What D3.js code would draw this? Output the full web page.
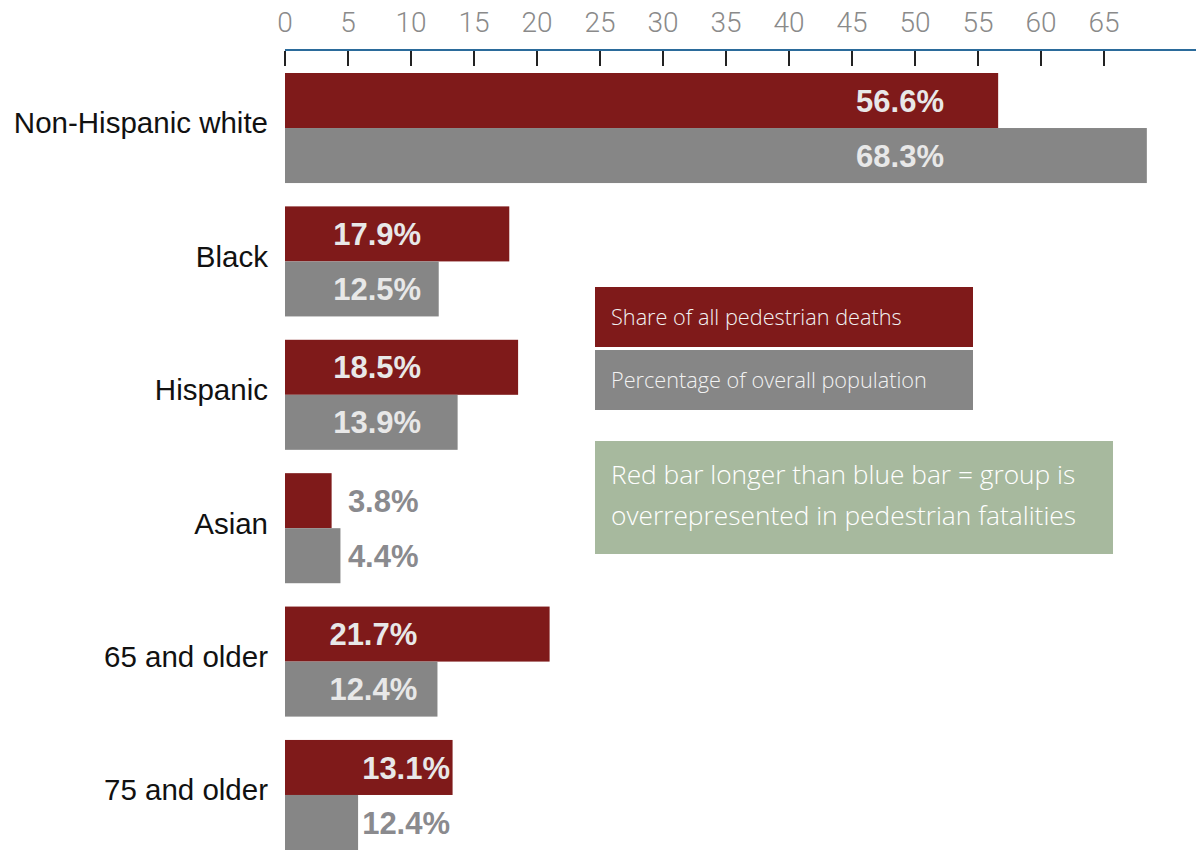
<!DOCTYPE html>
<html>
<head>
<meta charset="utf-8">
<script src="https://cdn.jsdelivr.net/npm/d3@7"></script>
<style>
  body { margin: 0; background: #fff; }
  svg { display: block; }
  .tick-label { font-family: Roboto, "Liberation Sans", sans-serif; font-weight: 300; }
  .cat { font-family: "Liberation Sans", Arial, sans-serif; }
  .val { font-family: "Liberation Sans", Arial, sans-serif; font-weight: bold; }
  .light { font-family: "Open Sans", Roboto, sans-serif; font-weight: 300; }
</style>
</head>
<body>
<div id="chart"></div>
<script>
const categories = ['Non-Hispanic white', 'Black', 'Hispanic', 'Asian', '65 and older', '75 and older'];
// bar lengths as drawn in the picture
const deathShare = [56.6, 17.8, 18.5, 3.7, 21.0, 13.3];
const populationShare = [68.4, 12.2, 13.7, 4.4, 12.1, 5.8];
// printed labels
const deathLabels = ['56.6%', '17.9%', '18.5%', '3.8%', '21.7%', '13.1%'];
const populationLabels = ['68.3%', '12.5%', '13.9%', '4.4%', '12.4%', '12.4%'];
// where each group's labels end, in axis units
const labelAt = [52.3, 10.8, 10.8, 10.6, 10.5, 13.1];
const ticks = [0, 5, 10, 15, 20, 25, 30, 35, 40, 45, 50, 55, 60, 65];
const legendLabels = ['Share of all pedestrian deaths', 'Percentage of overall population'];
const noteLines = ['Red bar longer than blue bar = group is', 'overrepresented in pedestrian fatalities'];

const red = '#7f1a1a';
const grey = '#868686';

const width = 1196;
const height = 850;

const svg = d3.select('#chart')
  .append('svg')
  .attr('width', width)
  .attr('height', height);

const x = d3.scaleLinear()
  .domain([0, 65])
  .range([285, 1104]);

const y = d3.scaleBand()
  .domain(categories)
  .range([73, 850])
  .paddingInner(0.175)
  .paddingOuter(0);

const barH = y.bandwidth() / 2;

// axis
const axis = svg.append('g').attr('class', 'axis');
axis.append('line')
  .attr('x1', x(0))
  .attr('x2', width)
  .attr('y1', 50)
  .attr('y2', 50)
  .attr('stroke', '#2b6b9b')
  .attr('stroke-width', 2);

axis.selectAll('.tick-mark')
  .data(ticks)
  .enter()
  .append('line')
  .attr('class', 'tick-mark')
  .attr('x1', d => x(d))
  .attr('x2', d => x(d))
  .attr('y1', 51)
  .attr('y2', 66)
  .attr('stroke', '#222')
  .attr('stroke-width', 2);

axis.selectAll('.tick-label')
  .data(ticks)
  .enter()
  .append('text')
  .attr('class', 'tick-label')
  .attr('x', d => x(d))
  .attr('y', 32)
  .attr('text-anchor', 'middle')
  .attr('font-size', 28)
  .attr('fill', '#8a8a8a')
  .text(d => d);

// bars
const groups = svg.selectAll('.group')
  .data(categories)
  .enter()
  .append('g')
  .attr('class', 'group')
  .attr('transform', d => `translate(0, ${y(d)})`);

groups.append('rect')
  .attr('x', x(0))
  .attr('y', 0)
  .attr('width', (d, i) => x(deathShare[i]) - x(0))
  .attr('height', barH)
  .attr('fill', red);

groups.append('rect')
  .attr('x', x(0))
  .attr('y', barH)
  .attr('width', (d, i) => x(populationShare[i]) - x(0))
  .attr('height', barH)
  .attr('fill', grey);

groups.append('text')
  .attr('class', 'cat')
  .attr('x', 268)
  .attr('y', barH - 5)
  .attr('dy', '0.35em')
  .attr('text-anchor', 'end')
  .attr('font-size', 29.5)
  .attr('fill', '#111')
  .text(d => d);

const labelColor = (end, value) => (x(value) >= end ? '#e8e8e8' : '#8a8a8e');

groups.append('text')
  .attr('class', 'val')
  .attr('x', (d, i) => x(labelAt[i]))
  .attr('y', barH / 2)
  .attr('dy', '0.36em')
  .attr('text-anchor', 'end')
  .attr('font-size', 31)
  .attr('fill', (d, i) => labelColor(x(labelAt[i]), deathShare[i]))
  .text((d, i) => deathLabels[i]);

groups.append('text')
  .attr('class', 'val')
  .attr('x', (d, i) => x(labelAt[i]))
  .attr('y', barH * 1.5)
  .attr('dy', '0.36em')
  .attr('text-anchor', 'end')
  .attr('font-size', 31)
  .attr('fill', (d, i) => labelColor(x(labelAt[i]), populationShare[i]))
  .text((d, i) => populationLabels[i]);

// legend
const legend = svg.append('g').attr('transform', 'translate(595, 287)');
legend.selectAll('rect')
  .data(legendLabels)
  .enter()
  .append('rect')
  .attr('x', 0)
  .attr('y', (d, i) => i * 63)
  .attr('width', 378)
  .attr('height', 60)
  .attr('fill', (d, i) => (i === 0 ? red : grey));

legend.selectAll('text')
  .data(legendLabels)
  .enter()
  .append('text')
  .attr('class', 'light')
  .attr('x', 16)
  .attr('y', (d, i) => i * 63 + 30)
  .attr('dy', '0.35em')
  .attr('font-size', 21.7)
  .attr('fill', '#f2f2f2')
  .text(d => d);

// note
const note = svg.append('g').attr('transform', 'translate(595, 441)');
note.append('rect')
  .attr('width', 518)
  .attr('height', 113)
  .attr('fill', '#a7b99e');

note.selectAll('text')
  .data(noteLines)
  .enter()
  .append('text')
  .attr('class', 'light')
  .attr('x', 16)
  .attr('y', (d, i) => 43 + i * 41)
  .attr('font-size', 26.3)
  .attr('fill', '#fff')
  .text(d => d);
</script>
</body>
</html>
